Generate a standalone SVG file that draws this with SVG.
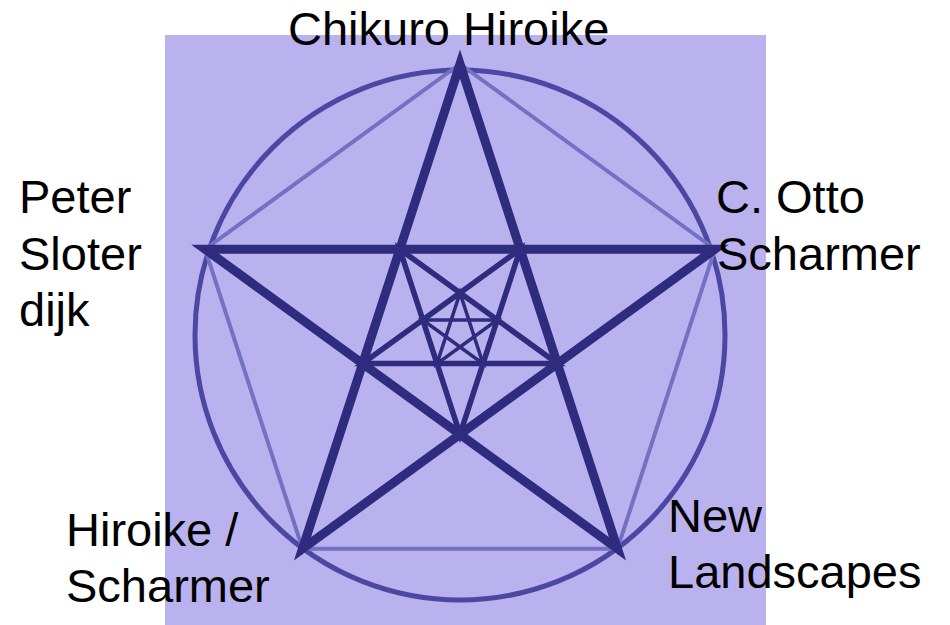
<svg xmlns="http://www.w3.org/2000/svg" width="950" height="625" viewBox="0 0 950 625">
<style>
.lbl{font-family:"Liberation Sans",Arial,sans-serif;font-size:47px;fill:#000}
.star{fill:none;stroke:#2f2b7e;stroke-linejoin:miter;stroke-linecap:round}
</style>
<rect x="0" y="0" width="950" height="625" fill="#ffffff"/>
<rect x="165" y="35" width="601" height="590" fill="#b9b2ee"/>
<g id="figure">
<circle cx="460" cy="335" r="265" fill="none" stroke="#4b47a3" stroke-width="5"/>
<polygon points="460,64 714.9,249.2 617.5,548.8 302.5,548.8 205.1,249.2" fill="none" stroke="#7470c4" stroke-width="4"/>
<polygon class="star" points="460,64 617.5,548.8 205.1,249.2 714.9,249.2 302.5,548.8" stroke-width="9"/>
<polygon class="star" points="520.2,249.2 460,434.4 399.8,249.2 557.4,363.6 362.6,363.6" stroke-width="5.5"/>
<polygon class="star" points="460,292.9 483,363.6 422.8,319.9 497.2,319.9 437,363.6" stroke-width="3.5"/>
</g>
<g id="node-top"><text class="lbl" x="288" y="45">Chikuro Hiroike</text></g>
<g id="node-left"><text class="lbl" x="19" y="213">Peter</text><text class="lbl" x="19" y="270">Sloter</text><text class="lbl" x="19" y="326">dijk</text></g>
<g id="node-right"><text class="lbl" x="716" y="213">C. Otto</text><text class="lbl" x="717" y="270">Scharmer</text></g>
<g id="node-bottom-left"><text class="lbl" x="66" y="546">Hiroike /</text><text class="lbl" x="66" y="602">Scharmer</text></g>
<g id="node-bottom-right"><text class="lbl" x="668" y="532">New</text><text class="lbl" x="668" y="588">Landscapes</text></g>
<g id="connectors"></g>
</svg>
